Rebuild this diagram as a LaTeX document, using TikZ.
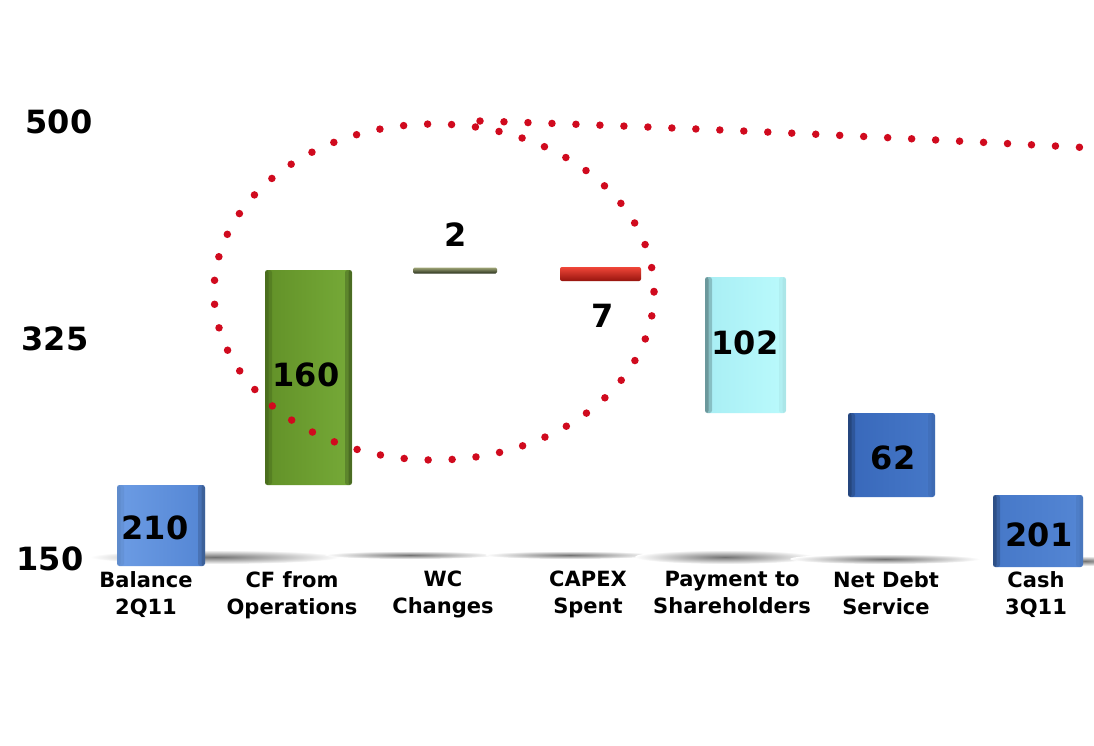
\documentclass[tikz,border=0pt]{standalone}
\usepackage{fontspec}
\setmainfont{DejaVu Sans}
\begin{document}
\begin{tikzpicture}[x=1pt,y=-1pt,
  bar/.style={inner sep=0pt, outer sep=0pt, rounded corners=2.5pt},
  edgeR/.style={path picture={\fill[black,opacity=#1/2] ([xshift=-7pt]path picture bounding box.north east) rectangle (path picture bounding box.south east);
      \fill[black,opacity=#1/2] ([xshift=-3.5pt]path picture bounding box.north east) rectangle (path picture bounding box.south east);}},
  edgeL/.style={path picture={\fill[black,opacity=#1/2] (path picture bounding box.north west) rectangle ([xshift=7pt]path picture bounding box.south west);
      \fill[black,opacity=#1/2] (path picture bounding box.north west) rectangle ([xshift=3.5pt]path picture bounding box.south west);}},
  edgeLR/.style 2 args={path picture={\fill[black,opacity=#1/2] (path picture bounding box.north west) rectangle ([xshift=7pt]path picture bounding box.south west);
      \fill[black,opacity=#1/2] (path picture bounding box.north west) rectangle ([xshift=3.5pt]path picture bounding box.south west);
      \fill[black,opacity=#2/2] ([xshift=-7pt]path picture bounding box.north east) rectangle (path picture bounding box.south east);
      \fill[black,opacity=#2/2] ([xshift=-3.5pt]path picture bounding box.north east) rectangle (path picture bounding box.south east);}},
  val/.style={font=\fontsize{32}{36}\selectfont\bfseries, inner sep=0pt},
  axislab/.style={font=\fontsize{32}{36}\selectfont\bfseries, inner sep=0pt},
  cat/.style={font=\fontsize{21}{27}\selectfont\bfseries, align=center, anchor=north, inner sep=0pt},
  shadow/.style={inner color=black!55, outer color=white},
  reddots/.style={draw=dotred, line width=7.5pt, line cap=round, dash pattern=on 0pt off 24pt}
]
\definecolor{dotred}{RGB}{208,10,30}
\definecolor{blueA}{RGB}{108,156,228}
\definecolor{blueB}{RGB}{84,134,212}
\definecolor{blueC}{RGB}{70,120,200}
\definecolor{blueD}{RGB}{56,104,186}
\definecolor{greenA}{RGB}{118,170,56}
\definecolor{greenB}{RGB}{98,145,40}
\definecolor{cyanA}{RGB}{186,250,252}
\definecolor{cyanB}{RGB}{168,238,244}
\definecolor{redA}{RGB}{240,70,56}
\definecolor{redB}{RGB}{150,20,14}
\definecolor{wcA}{RGB}{160,166,120}
\definecolor{wcB}{RGB}{40,48,28}

\useasboundingbox (0,0) rectangle (1094,745);
\fill[white] (0,0) rectangle (1094,745);

% base shadows
\shade[shadow] (215,557) ellipse [x radius=125, y radius=7];
\shade[shadow] (410,555) ellipse [x radius=85, y radius=4];
\shade[shadow] (570,555) ellipse [x radius=85, y radius=4];
\shade[shadow] (725,557) ellipse [x radius=90, y radius=7];
\shade[shadow] (885,559) ellipse [x radius=95, y radius=5];
\shade[shadow] (1085,561) ellipse [x radius=40, y radius=5];

% axis labels
\node[axislab] (a500) at (59,122) {500};
\node[axislab] (a325) at (55,339) {325};
\node[axislab] (a150) at (50,559) {150};

% bars
\node[bar, minimum width=88pt, minimum height=81pt, left color=blueA, right color=blueB, edgeLR={0.1}{0.3}] (bal) at (161,525.5) {};
\node[bar, minimum width=87pt, minimum height=215pt, left color=greenB, right color=greenA, edgeLR={0.25}{0.4}] (cfo) at (308.5,377.5) {};
\node[bar, rounded corners=1.5pt, minimum width=84pt, minimum height=6pt, top color=wcA, bottom color=wcB] (wc) at (455,270.5) {};
\node[bar, rounded corners=2pt, minimum width=81pt, minimum height=14pt, top color=redA, bottom color=redB] (capex) at (600.5,274) {};
\node[bar, minimum width=81pt, minimum height=136pt, left color=cyanB, right color=cyanA, edgeLR={0.4}{0.08}] (pay) at (745.5,345) {};
\node[bar, minimum width=87pt, minimum height=84pt, left color=blueD, right color=blueC, edgeLR={0.35}{0.1}] (nds) at (891.5,455) {};
\node[bar, minimum width=90pt, minimum height=72pt, left color=blueC, right color=blueB, edgeLR={0.35}{0.1}] (cash) at (1038,531) {};

% values
\node[val] (v210) at (155,528) {210};
\node[val] (v160) at (306,375) {160};
\node[val] (v2) at (456,235) {2};
\node[val] (v7) at (603,316) {7};
\node[val] (v102) at (745,343) {102};
\node[val] (v62) at (893,458) {62};
\node[val] (v201) at (1039,535) {201};

% categories
\node[cat] (c1) at (146,571) {Balance\\2Q11};
\node[cat] (c2) at (292,571) {CF from\\Operations};
\node[cat] (c3) at (443,571) {WC\\Changes};
\node[cat] (c4) at (588,571) {CAPEX\\Spent};
\node[cat] (c5) at (732,571) {Payment to\\Shareholders};
\node[cat] (c6) at (886,571) {Net Debt\\Service};
\node[cat] (c7) at (1036,571) {Cash\\3Q11};

% dotted callout
\coordinate (ec) at (434,292);
\coordinate (tip) at (480,121);
\coordinate (tail) at (1094,148);
\draw[reddots] (ec) ellipse [x radius=220, y radius=168];
\draw[reddots] (tip) .. controls (700,128) and (900,138) .. (tail);
\end{tikzpicture}
\end{document}
